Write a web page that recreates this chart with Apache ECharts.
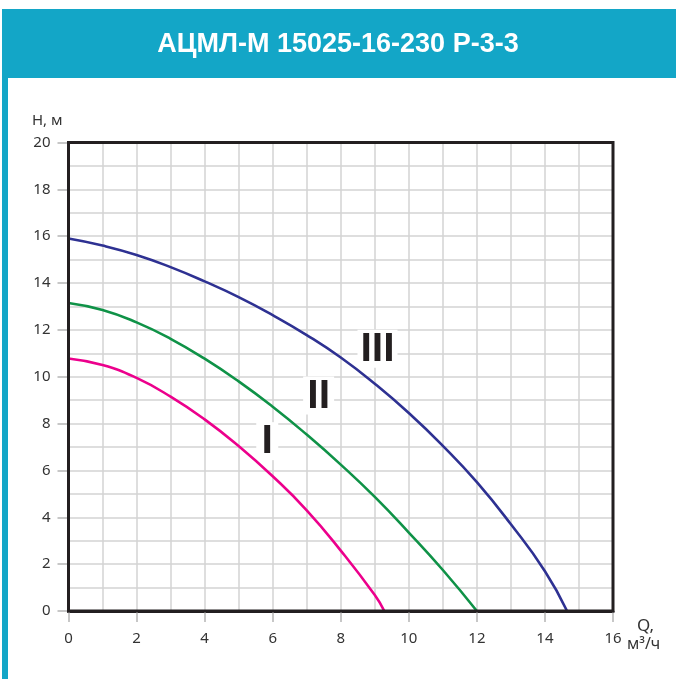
<!DOCTYPE html>
<html>
<head>
<meta charset="utf-8">
<script src="https://cdn.jsdelivr.net/npm/echarts@6/dist/echarts.min.js"></script>
<style>
html,body{margin:0;padding:0;background:#fff;}
#chart{width:676px;height:679px;}
</style>
</head>
<body>
<div id="chart"></div>
<script>
// ---- Data ----
const titleText = 'АЦМЛ-М 15025-16-230 Р-3-3';
const xTicks = [0, 2, 4, 6, 8, 10, 12, 14, 16];
const yTicks = [0, 2, 4, 6, 8, 10, 12, 14, 16, 18, 20];

const qIII = [0, 1, 2, 3, 4, 5, 6, 7, 8, 9, 10, 11, 12, 13, 14, 14.65];
const hIII = [15.9, 15.6, 15.2, 14.68, 14.07, 13.4, 12.63, 11.78, 10.82, 9.7, 8.45, 7.05, 5.5, 3.7, 1.7, 0];

const qII = [0, 1, 2, 3, 4, 5, 6, 7, 8, 9, 10, 11, 12];
const hII = [13.15, 12.85, 12.32, 11.62, 10.77, 9.8, 8.72, 7.53, 6.25, 4.87, 3.35, 1.75, 0];

const qI = [0, 1, 2, 3, 4, 5, 6, 7, 8, 9, 9.28];
const hI = [10.78, 10.5, 9.95, 9.15, 8.18, 7.04, 5.75, 4.3, 2.58, 0.68, 0];

const curveNames = ['I', 'II', 'III'];
const curveLabelQ = [5.84, 7.35, 9.08];
const curveLabelH = [7.25, 9.2, 11.2];

// ---- Chart ----
const zip = (a, b) => a.map((v, i) => [v, b[i]]);
const chart = echarts.init(document.getElementById('chart'), null, {renderer: 'canvas'});

const gridLineStyle = {color: '#d3d3d3', width: 1.5};
const labelFont = {fontFamily: 'Noto Sans', fontSize: 15, color: '#333'};

function curve(name, q, h, color) {
  return {
    name: name, type: 'line', data: zip(q, h), smooth: 0.5,
    showSymbol: false, symbol: 'none', lineStyle: {color: color, width: 2.6}, z: 3, silent: true
  };
}

const labelSeries = {
  type: 'custom',
  z: 2,
  silent: true,
  data: curveNames.map((n, i) => [curveLabelQ[i], curveLabelH[i]]),
  renderItem: function (params, api) {
    const p = api.coord([api.value(0), api.value(1)]);
    const txt = curveNames[params.dataIndex];
    const w = 13 + txt.length * 9;
    return {
      type: 'group',
      children: [
        {type: 'rect', shape: {x: p[0] - w / 2, y: p[1] - 19, width: w, height: 38},
         style: {fill: '#fff'}},
        {type: 'text', x: p[0], y: p[1] + 1,
         style: {text: txt, fill: '#231f20', align: 'center', verticalAlign: 'middle',
                 font: 'bold 41px "Liberation Sans", Arial, sans-serif'}}
      ]
    };
  }
};

chart.setOption({
  animation: false,
  backgroundColor: '#fff',
  grid: {left: 68.5, right: 63, top: 142.5, bottom: 68, show: true,
         borderColor: '#231f20', borderWidth: 3, backgroundColor: 'transparent', z: 4},
  graphic: [
    {type: 'rect', shape: {x: 2, y: 9, width: 674, height: 69}, style: {fill: '#13a6c7'}, silent: true},
    {type: 'rect', shape: {x: 2, y: 77, width: 6, height: 602}, style: {fill: '#13a6c7'}, silent: true},
    {type: 'text', left: 'center', top: 31, style: {text: titleText, fill: '#fff',
      font: 'bold 27px "Liberation Sans Narrow", "Liberation Sans", sans-serif'}, silent: true},
    {type: 'text', left: 32, top: 113, style: {text: 'H, м', fill: '#333',
      font: '15px "Noto Sans", sans-serif'}, silent: true},
    {type: 'text', left: 637, top: 618, style: {text: 'Q,', fill: '#333',
      font: '17px "Noto Sans", sans-serif'}, silent: true},
    {type: 'text', left: 627, top: 636, style: {text: 'м³/ч', fill: '#333',
      font: '16px "Noto Sans", sans-serif'}, silent: true}
  ],
  xAxis: {
    type: 'value', min: xTicks[0], max: xTicks[xTicks.length - 1], interval: 2,
    axisLine: {show: true, onZero: false, lineStyle: {color: '#231f20', width: 3}},
    axisTick: {show: true, length: 11, lineStyle: {color: '#b5b5b5', width: 1.5}},
    minorTick: {show: false, splitNumber: 2},
    splitLine: {show: true, lineStyle: gridLineStyle},
    minorSplitLine: {show: true, lineStyle: gridLineStyle},
    axisLabel: Object.assign({margin: 20}, labelFont)
  },
  yAxis: {
    type: 'value', min: yTicks[0], max: yTicks[yTicks.length - 1], interval: 2,
    axisLine: {show: true, onZero: false, lineStyle: {color: '#231f20', width: 3}},
    axisTick: {show: true, length: 11, lineStyle: {color: '#b5b5b5', width: 1.5}},
    minorTick: {show: false, splitNumber: 2},
    splitLine: {show: true, lineStyle: gridLineStyle},
    minorSplitLine: {show: true, lineStyle: gridLineStyle},
    axisLabel: Object.assign({margin: 18}, labelFont)
  },
  series: [
    curve('III', qIII, hIII, '#2e3192'),
    curve('II', qII, hII, '#0f9247'),
    curve('I', qI, hI, '#ec008c'),
    labelSeries
  ]
});
</script>
</body>
</html>
